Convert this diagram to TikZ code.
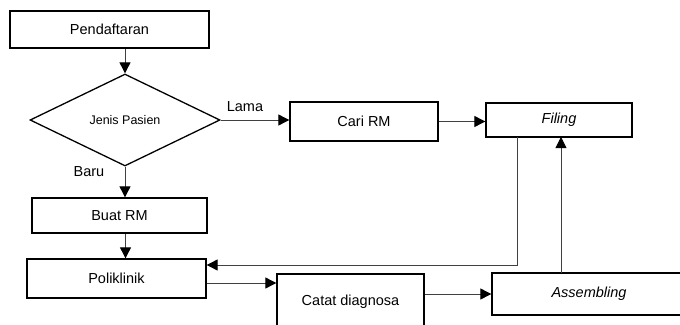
\documentclass[tikz,border=0pt]{standalone}
\usepackage{fontspec}
\setmainfont{Liberation Sans}
\usetikzlibrary{shapes.geometric,arrows.meta}
\begin{document}
\begin{tikzpicture}[x=1pt,y=-1pt,
  box/.style={draw,line width=1.3pt,rectangle,inner sep=0pt,font=\fontsize{14.5}{16}\selectfont},
  conn/.style={line width=0.9pt,draw=black!75,-{Triangle[length=11pt,width=11pt,color=black]}},
  lbl/.style={font=\fontsize{14.5}{16}\selectfont,inner sep=0pt}]
\useasboundingbox (0,0) rectangle (680,324);
\clip (0,0) rectangle (680,324);
\fill[white] (0,0) rectangle (680,324);
\node[box,minimum width=199pt,minimum height=37pt] (pend) at (109.5,29.5) {Pendaftaran};
\node[draw,line width=1.3pt,diamond,inner sep=0pt,minimum width=190pt,minimum height=92pt,font=\fontsize{12.5}{14}\selectfont] (jenis) at (125,120) {Jenis Pasien};
\node[box,minimum width=148pt,minimum height=39pt] (cari) at (364,121.5) {Cari RM};
\node[box,minimum width=146pt,minimum height=34pt] (filing) at (559,120) {\itshape Filing};
\node[box,minimum width=175pt,minimum height=35pt] (buat) at (119.5,215.5) {Buat RM};
\node[box,minimum width=179pt,minimum height=39pt] (poli) at (116.5,278.5) {Poliklinik};
\node[box,minimum width=147pt,minimum height=56pt] (catat) at (350.5,302) {Catat diagnosa};
\node[box,minimum width=194pt,minimum height=42pt] (assem) at (589,294) {\itshape Assembling};
\node[lbl] (lama) at (245,107) {Lama};
\node[lbl] (baru) at (89,172) {Baru};
\coordinate (fdown) at (517,137);
\coordinate (fcorner) at (517,265);
\draw[conn] (jenis.north |- pend.south) -- (jenis.north);
\draw[conn] (jenis.east) -- (cari.west |- jenis.east);
\draw[conn] (cari.east) -- (filing.west |- cari.east);
\draw[conn] (jenis.south) -- (jenis.south |- buat.north);
\draw[conn] ([xshift=6pt]buat.south) -- ([xshift=6pt]buat.south |- poli.north);
\draw[conn] (fdown) -- (fcorner) -- (poli.east |- fcorner);
\draw[conn] (poli.east |- 0,283) -- (catat.west |- 0,283);
\draw[conn] (catat.east |- 0,294) -- (assem.west |- 0,294);
\draw[conn] (561,273) -- (561,137);
\end{tikzpicture}
\end{document}
